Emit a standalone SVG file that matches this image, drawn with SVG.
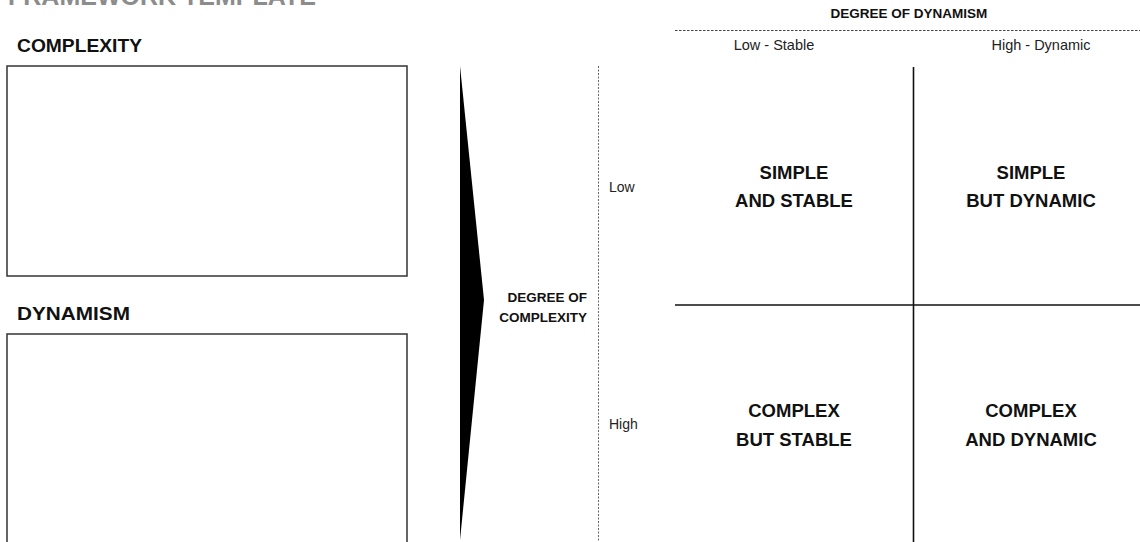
<svg xmlns="http://www.w3.org/2000/svg" width="1140" height="542" viewBox="0 0 1140 542">
  <style>
    .h { font-family: "Liberation Sans", Arial, sans-serif; font-weight: bold; fill: #111; }
    .t { font-family: "Liberation Sans", Arial, sans-serif; fill: #222; }
    .q { font-family: "Liberation Sans", Arial, sans-serif; font-weight: bold; fill: #111; font-size: 18.5px; text-anchor: middle; }
    .box { fill: #fff; stroke: #333; stroke-width: 1.5; }
    .rule { stroke: #111; stroke-width: 1.6; }
  </style>
  <rect width="1140" height="542" fill="#fff"/>

  <!-- page title, clipped by the top edge -->
  <text x="8" y="5" class="h" font-size="25" style="fill:#8c8c8c">FRAMEWORK TEMPLATE</text>

  <!-- input boxes -->
  <g id="complexity">
    <text x="17" y="52" class="h" font-size="19" textLength="125" lengthAdjust="spacingAndGlyphs">COMPLEXITY</text>
    <rect x="7" y="66" width="400" height="210" class="box"/>
  </g>
  <g id="dynamism">
    <text x="17" y="320" class="h" font-size="19" textLength="113" lengthAdjust="spacingAndGlyphs">DYNAMISM</text>
    <rect x="7" y="334" width="400" height="220" class="box"/>
  </g>

  <!-- arrow pointing into the matrix -->
  <g id="arrow">
    <polygon points="460,66 484,300 460,540" fill="#000"/>
  </g>

  <!-- complexity axis -->
  <g id="complexity-axis">
    <line x1="598.5" y1="66" x2="598.5" y2="542" stroke="#666" stroke-width="1" stroke-dasharray="2,1.5"/>
    <text x="587" y="302" class="h" font-size="13.5" text-anchor="end">DEGREE OF</text>
    <text x="587" y="322" class="h" font-size="13.5" text-anchor="end">COMPLEXITY</text>
    <text x="609" y="192" class="t" font-size="14">Low</text>
    <text x="609" y="429" class="t" font-size="14">High</text>
  </g>

  <!-- dynamism axis -->
  <g id="dynamism-axis">
    <text x="909" y="18" class="h" font-size="13.5" text-anchor="middle">DEGREE OF DYNAMISM</text>
    <line x1="675" y1="30.5" x2="1140" y2="30.5" stroke="#444" stroke-width="1" stroke-dasharray="2.5,1.5"/>
    <text x="774" y="50" class="t" font-size="14.5" text-anchor="middle">Low - Stable</text>
    <text x="1041" y="50" class="t" font-size="14.5" text-anchor="middle">High - Dynamic</text>
  </g>

  <!-- matrix grid -->
  <g id="grid">
    <line x1="913.5" y1="67" x2="913.5" y2="542" class="rule"/>
    <line x1="675" y1="305" x2="1140" y2="305" class="rule"/>
  </g>

  <!-- quadrant labels -->
  <g id="q-simple-stable">
    <text x="794" y="179" class="q">SIMPLE</text>
    <text x="794" y="207" class="q">AND STABLE</text>
  </g>
  <g id="q-simple-dynamic">
    <text x="1031" y="179" class="q">SIMPLE</text>
    <text x="1031" y="207" class="q">BUT DYNAMIC</text>
  </g>
  <g id="q-complex-stable">
    <text x="794" y="417" class="q">COMPLEX</text>
    <text x="794" y="446" class="q">BUT STABLE</text>
  </g>
  <g id="q-complex-dynamic">
    <text x="1031" y="417" class="q">COMPLEX</text>
    <text x="1031" y="446" class="q">AND DYNAMIC</text>
  </g>
</svg>
